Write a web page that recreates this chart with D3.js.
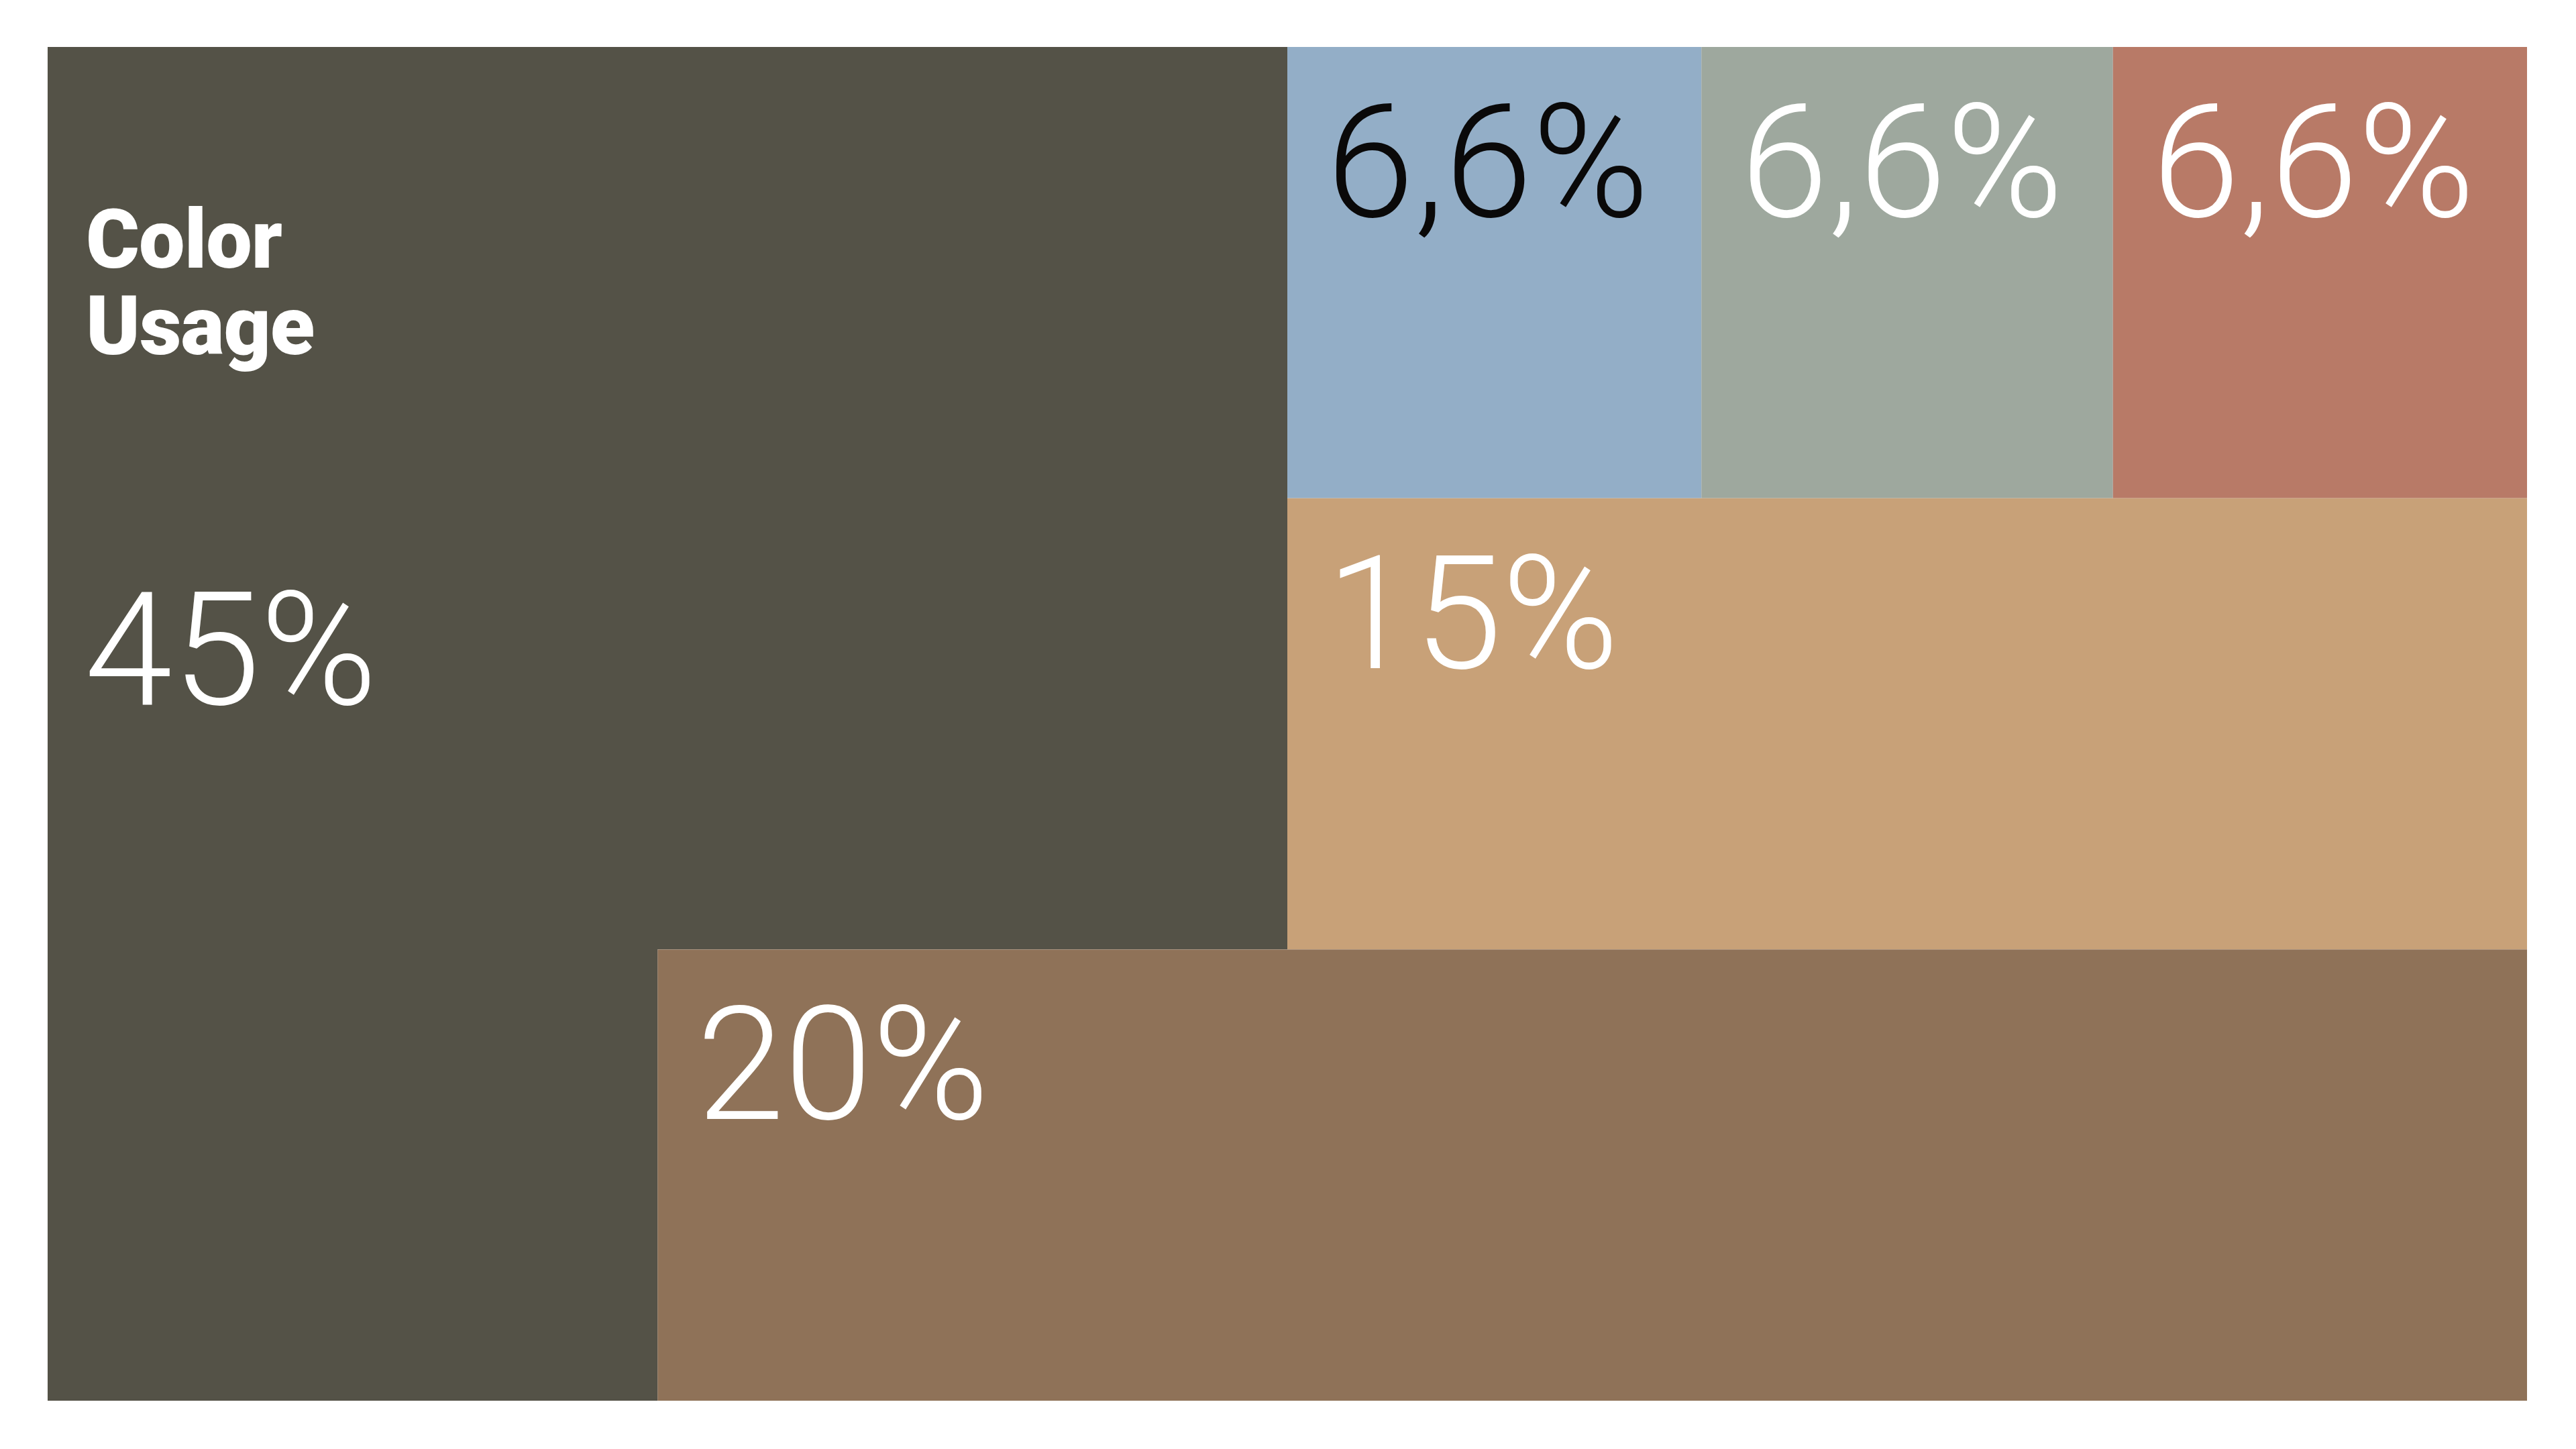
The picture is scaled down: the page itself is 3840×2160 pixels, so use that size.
<!DOCTYPE html>
<html>
<head>
<meta charset="utf-8">
<script src="https://cdn.jsdelivr.net/npm/d3@7"></script>
<style>
  html, body { margin: 0; padding: 0; background: #fff; }
  svg { display: block; }
</style>
</head>
<body>
<svg id="chart" width="3840" height="2160"></svg>
<script>
// values of the chart
const labels = ["45%", "6,6%", "6,6%", "6,6%", "15%", "20%"];
const fills = ["#545247", "#93aec7", "#9ea89e", "#b87a67", "#c8a178", "#8f7258"];
const textFills = ["#fff", "#0a0909", "#fff", "#fff", "#fff", "#fff"];
const title = ["Color", "Usage"];

// column edges (share of the width) and the cells that sit in them
const colEdges = [0, 0.246, 0.5, 0.667, 0.833, 1];
// [col from, col to, row from, row to]
const cells = [
  null, // the 45% block is an L shape, drawn below
  [2, 3, 0, 1],
  [3, 4, 0, 1],
  [4, 5, 0, 1],
  [2, 5, 1, 2],
  [1, 5, 2, 3]
];

const svg = d3.select("#chart");
const x = d3.scaleLinear().domain([0, 1]).range([71, 3767]);
const y = d3.scaleLinear().domain([0, 3]).range([70, 2088]);
const cx = i => x(colEdges[i]);

const g = svg.append("g");

// L-shaped 45% area
const lShape = [[0, 0], [2, 0], [2, 2], [1, 2], [1, 3], [0, 3]];
g.append("path")
  .attr("d", d3.line().x(d => cx(d[0])).y(d => y(d[1]))(lShape) + "Z")
  .attr("fill", fills[0]);

// rectangular cells
const rects = cells.map((c, i) => ({ c, i })).filter(d => d.c);
g.selectAll("rect.cell")
  .data(rects)
  .join("rect")
  .attr("class", "cell")
  .attr("x", d => cx(d.c[0]))
  .attr("y", d => y(d.c[2]))
  .attr("width", d => cx(d.c[1]) - cx(d.c[0]))
  .attr("height", d => y(d.c[3]) - y(d.c[2]))
  .attr("fill", d => fills[d.i]);

// numbers, light face
function number(sel) {
  sel.attr("fill", d => textFills[d.i])
    .style("font-family", "Roboto, 'Liberation Sans', sans-serif")
    .style("font-weight", 300)
    .style("font-size", "236px")
    .style("letter-spacing", "0px")
    .text(d => labels[d.i]);
}

// labels: ~60px in, baseline 253px down from the cell top
g.selectAll("text.val")
  .data(rects)
  .join("text")
  .attr("class", "val")
  .attr("x", d => cx(d.c[0]) + 58)
  .attr("y", d => y(d.c[2]) + 253)
  .call(number);

// big label of the L block
g.append("text")
  .datum({ i: 0 })
  .attr("x", cx(0) + 55)
  .attr("y", y(1) + 307)
  .call(number);

// title
g.append("text")
  .attr("x", cx(0) + 57)
  .attr("y", 399)
  .attr("fill", "#fff")
  .style("font-family", "Roboto, 'Liberation Sans', sans-serif")
  .style("font-weight", 900)
  .style("font-size", "122px")
  .style("letter-spacing", "-1px")
  .selectAll("tspan")
  .data(title)
  .join("tspan")
  .attr("x", cx(0) + 57)
  .attr("dy", (d, i) => i ? 129 : 0)
  .text(d => d);
</script>
</body>
</html>
